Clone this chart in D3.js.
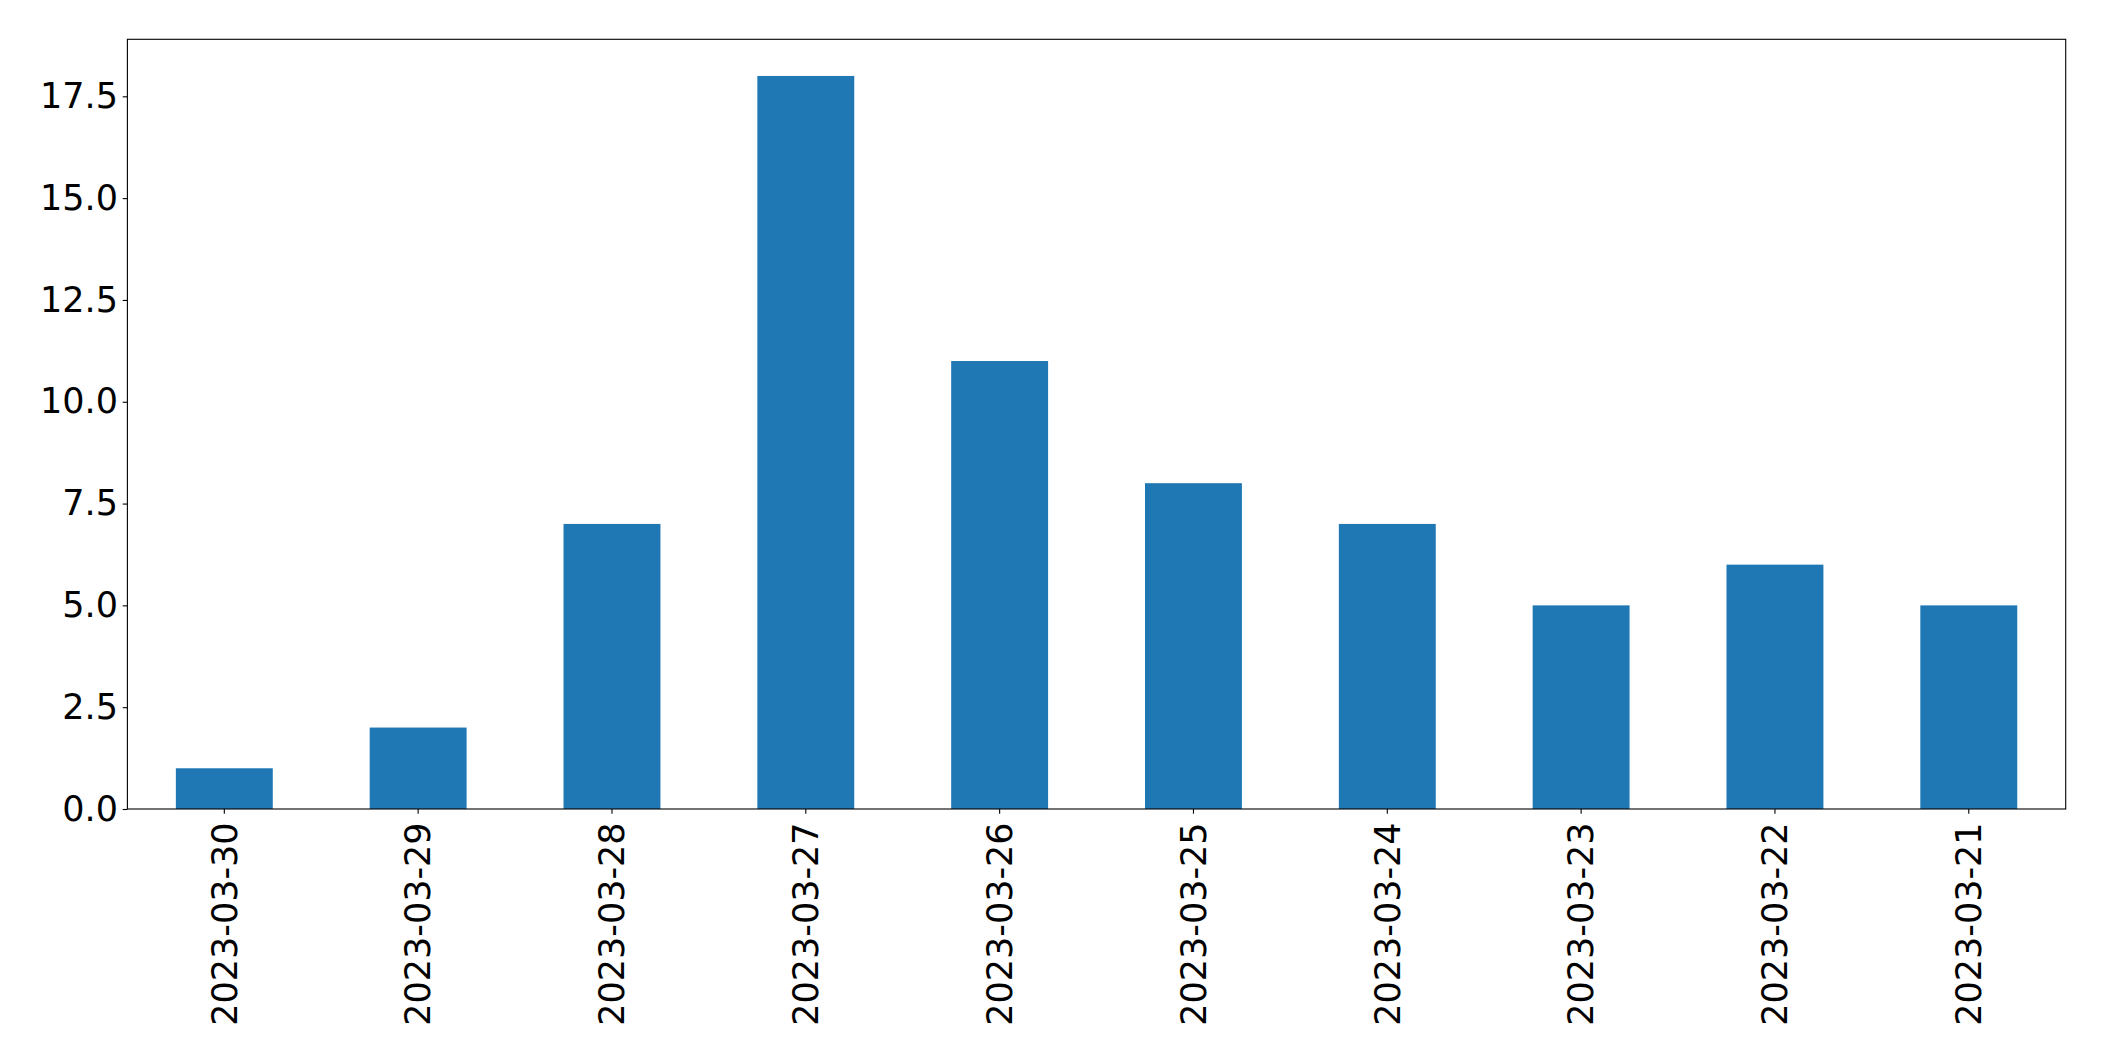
<!DOCTYPE html>
<html>
<head>
<meta charset="utf-8">
<script src="https://cdn.jsdelivr.net/npm/d3@7"></script>
<style>
  html, body { margin: 0; padding: 0; background: #fff; }
  svg { display: block; }
  text { font-family: "DejaVu Sans", sans-serif; fill: #000; }
</style>
</head>
<body>
<svg id="grafico"></svg>
<script>
// categorias na ordem do gráfico (mais recente primeiro)
const datas = ["2023-03-30", "2023-03-29", "2023-03-28", "2023-03-27", "2023-03-26",
               "2023-03-25", "2023-03-24", "2023-03-23", "2023-03-22", "2023-03-21"];
const contagens = [1, 2, 7, 18, 11, 8, 7, 5, 6, 5];
const ticksY = [0, 2.5, 5, 7.5, 10, 12.5, 15, 17.5];

const width = 2104, height = 1061;
const margem = { top: 39.3, right: 2104 - 2065.7, bottom: 1061 - 809, left: 127.4 };
const w = width - margem.left - margem.right;
const h = height - margem.top - margem.bottom;

const svg = d3.select("#grafico").attr("width", width).attr("height", height);
const g = svg.append("g").attr("transform", `translate(${margem.left},${margem.top})`);

const x = d3.scaleBand()
    .domain(datas)
    .range([0, w])
    .paddingInner(0.5)
    .paddingOuter(0.25);

const y = d3.scaleLinear()
    .domain([0, d3.max(contagens) * 1.05])
    .range([h, 0]);

const dados = datas.map((d, i) => ({ data: d, valor: contagens[i] }));

g.selectAll(".barra")
    .data(dados)
    .join("rect")
    .attr("class", "barra")
    .attr("x", d => x(d.data))
    .attr("width", x.bandwidth())
    .attr("y", d => y(d.valor))
    .attr("height", d => h - y(d.valor))
    .attr("fill", "#1f77b4");

const tamTick = 4.7, pad = 4.7, fonte = 35;

// eixo y
const eixoY = g.append("g")
    .call(d3.axisLeft(y).tickValues(ticksY).tickFormat(d3.format(".1f"))
        .tickSize(tamTick).tickPadding(pad));
eixoY.select(".domain").remove();
eixoY.selectAll("line").attr("stroke", "#000").attr("stroke-width", 1.1);
eixoY.selectAll("text").style("font-size", fonte + "px").style("font-family", "DejaVu Sans");

// eixo x, rótulos na vertical
const eixoX = g.append("g")
    .attr("transform", `translate(0,${h})`)
    .call(d3.axisBottom(x).tickSize(tamTick).tickPadding(0));
eixoX.select(".domain").remove();
eixoX.selectAll("line").attr("stroke", "#000").attr("stroke-width", 1.1);
eixoX.selectAll("text")
    .style("font-size", fonte + "px")
    .style("font-family", "DejaVu Sans")
    .attr("text-anchor", "end")
    .attr("dy", "0.35em")
    .attr("y", 0)
    .attr("transform", `translate(0,${tamTick + pad + 4}) rotate(-90)`);

// moldura
g.append("rect")
    .attr("width", w).attr("height", h)
    .attr("fill", "none")
    .attr("stroke", "#000")
    .attr("stroke-width", 1.1);
</script>
</body>
</html>
